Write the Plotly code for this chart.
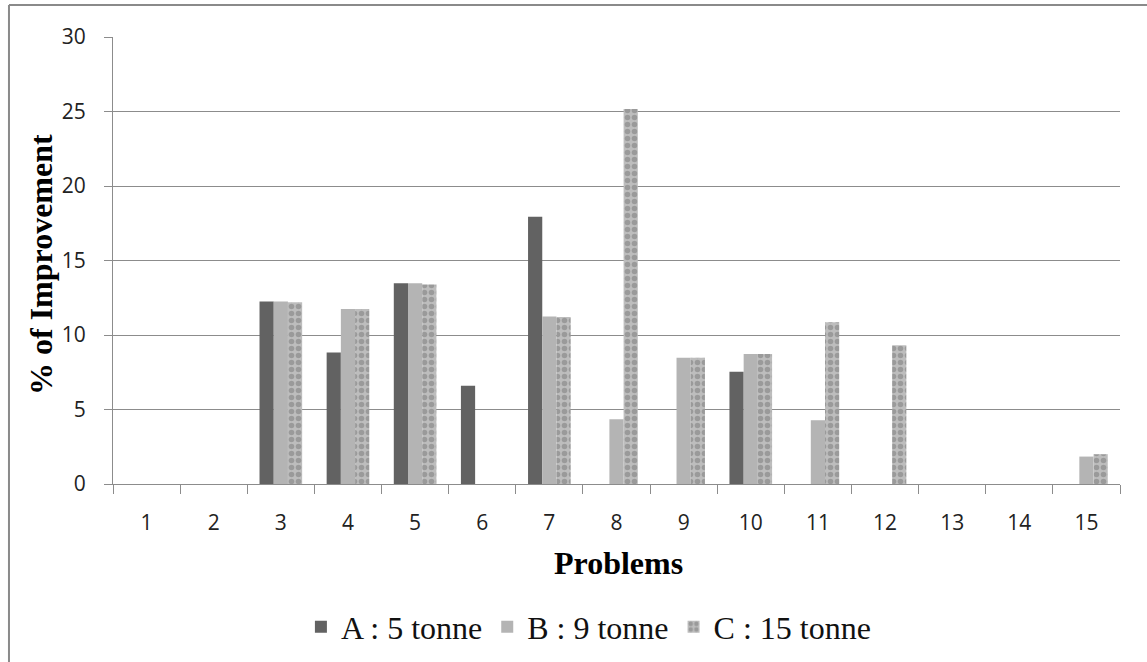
import plotly.graph_objects as go

problems = [str(i) for i in range(1, 16)]
series_a = [0, 0, 12.24, 8.82, 13.48, 6.6, 17.93, 0, 0, 7.54, 0, 0, 0, 0, 0]
series_b = [0, 0, 12.24, 11.75, 13.48, 0, 11.24, 4.34, 8.48, 8.73, 4.28, 0, 0, 0, 1.84]
series_c = [0, 0, 12.2, 11.75, 13.39, 0, 11.2, 25.16, 8.48, 8.73, 10.86, 9.31, 0, 0, 2.0]
names = ["A : 5 tonne", "B : 9 tonne", "C : 15 tonne"]

grid = "#8c8c8c"
fig = go.Figure()
fig.add_trace(go.Bar(x=problems, y=series_a, name=names[0],
                     marker=dict(color="#626262", line=dict(width=0))))
fig.add_trace(go.Bar(x=problems, y=series_b, name=names[1],
                     marker=dict(color="#b4b4b4", line=dict(width=0))))
fig.add_trace(go.Bar(x=problems, y=series_c, name=names[2],
                     marker=dict(color="#bdbdbd", line=dict(width=0),
                                 pattern=dict(shape=".", fillmode="overlay",
                                              fgcolor="#787878", size=7,
                                              solidity=0.5))))

fig.update_layout(
    width=1147, height=662,
    margin=dict(l=113, r=27, t=37, b=178, autoexpand=False),
    paper_bgcolor="white", plot_bgcolor="white",
    barmode="group", bargap=0.365, bargroupgap=0,
    showlegend=True,
    legend=dict(orientation="h", xref="container", yref="container",
                x=0.513, xanchor="center", y=0.053, yanchor="middle",
                font=dict(family="Liberation Serif", size=32, color="#111111"),
                itemwidth=30, traceorder="normal"),
    xaxis=dict(type="category", showgrid=False, showline=True, linecolor=grid, linewidth=1,
               ticks="outside", tickson="boundaries", ticklen=9, tickcolor=grid,
               tickfont=dict(family="Open Sans", size=21, color="#222222"),
               ticklabelstandoff=20, zeroline=False),
    yaxis=dict(range=[0, 30], dtick=5, showgrid=True, gridcolor=grid, gridwidth=1,
               showline=True, linecolor=grid, linewidth=1,
               ticks="outside", ticklen=8, tickcolor=grid,
               tickfont=dict(family="Open Sans", size=21, color="#222222"),
               ticklabelstandoff=14, zeroline=False),
    annotations=[
        dict(text="<b>% of Improvement</b>", xref="paper", yref="paper",
             x=-0.072, y=0.491, xanchor="center", yanchor="middle", textangle=-90,
             showarrow=False, font=dict(family="Liberation Serif", size=32, color="black")),
        dict(text="<b>Problems</b>", xref="paper", yref="paper",
             x=0.5015, y=-0.1767, xanchor="center", yanchor="middle",
             showarrow=False, font=dict(family="Liberation Serif", size=32, color="black")),
    ],
    shapes=[
        dict(type="line", xref="paper", yref="paper", x0=-0.1033, x1=1.2, y0=1.0716, y1=1.0716,
             line=dict(color="#8a8a8a", width=2)),
        dict(type="line", xref="paper", yref="paper", x0=-0.1033, x1=-0.1033, y0=-0.5, y1=1.0716,
             line=dict(color="#8a8a8a", width=2)),
    ],
)

fig.write_html("out.html")
